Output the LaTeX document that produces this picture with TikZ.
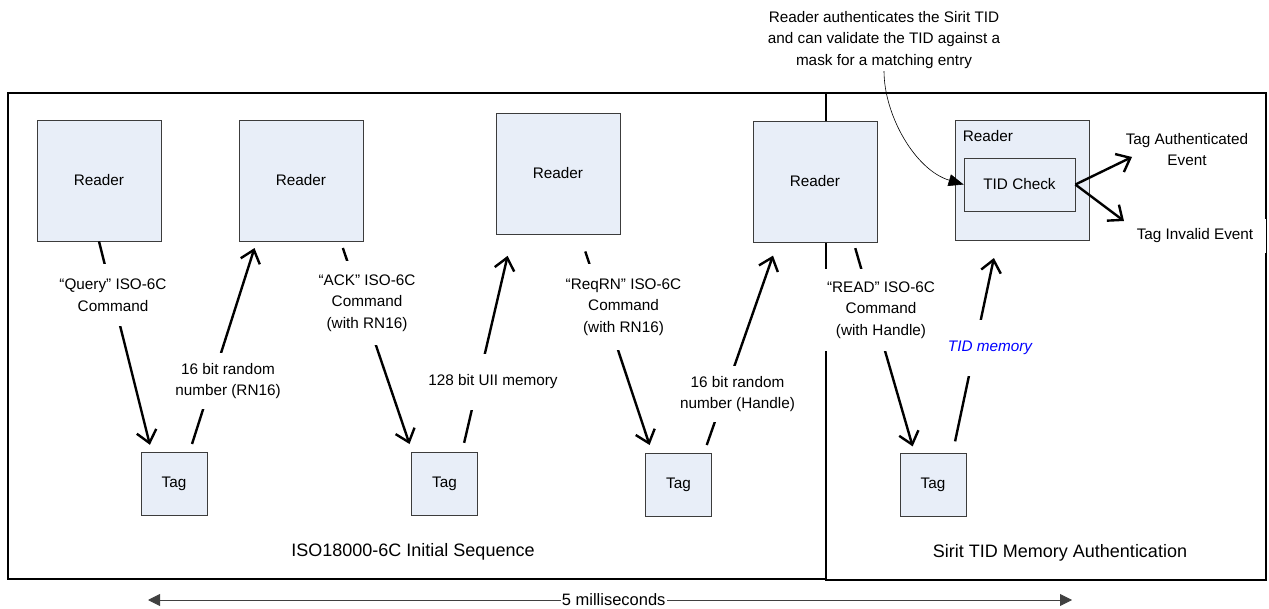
\documentclass[tikz,border=0pt]{standalone}
\usepackage{fontspec}
\setmainfont{Liberation Sans}
\usetikzlibrary{arrows.meta,calc}
\definecolor{boxfill}{RGB}{232,238,248}
\definecolor{boxline}{RGB}{60,60,60}
\definecolor{memblue}{RGB}{0,0,255}
\begin{document}
\begin{tikzpicture}[x=1pt,y=-1pt,
  font=\fontsize{15.3}{21.7}\selectfont,
  box/.style={draw=boxline, line width=0.8pt, fill=boxfill, inner sep=0pt},
  reader/.style={box, minimum width=124pt, minimum height=121pt},
  tag/.style={box, minimum width=66pt, minimum height=63pt},
  lbl/.style={fill=white, align=center, inner xsep=3pt},
  msg/.style={line width=2.4pt, -{Straight Barb[length=12pt,width=20pt]}},
  frame/.style={draw=black, line width=1.6pt},
  title/.style={font=\fontsize{18}{22}\selectfont}]
\useasboundingbox (0,0) rectangle (1269,609);

% frames
\draw[frame] (8,93) rectangle (826,579);
\draw[frame] (826,93) rectangle (1266,580);

% readers
\node[reader] (R1) at (99,180.5) {Reader};
\node[reader] (R2) at (301,180.5) {Reader};
\node[reader] (R3) at (558,173.5) {Reader};
\node[reader] (R4) at (815,181.5) {Reader};
\node[box, minimum width=134pt, minimum height=120pt] (R5) at (1022,180) {};
\node (R5t) at (988,136) {Reader};
\node[box, minimum width=111pt, minimum height=53pt] (TID) at (1019.5,184.5) {TID Check};

% tags
\node[tag] (T1) at (174,483.5) {Tag};
\node[tag] (T2) at (444.5,483.5) {Tag};
\node[tag] (T3) at (678.5,484.5) {Tag};
\node[tag] (T4) at (933,485) {Tag};

% message arrows
\draw[msg, shorten >=7pt] (R1.south) -- ([xshift=11pt]T1.north west);
\draw[msg, shorten <=8pt, shorten >=7pt] ([xshift=49pt]T1.north west) -- ([xshift=18pt]R2.south west);
\draw[msg, shorten <=7pt, shorten >=8pt] ([xshift=102pt]R2.south west) -- ([xshift=1pt]T2.north west);
\draw[msg, shorten <=9pt, shorten >=22pt] ([xshift=51pt]T2.north west) -- ([xshift=17pt]R3.south west);
\draw[msg, shorten <=18pt, shorten >=8pt] ([xshift=84pt]R3.south west) -- ([xshift=7pt]T3.north west);
\draw[msg, shorten <=8pt, shorten >=14pt] ([xshift=59pt]T3.north west) -- ([xshift=25pt]R4.south west);
\draw[msg, shorten <=6pt, shorten >=7pt] ([xshift=101pt]R4.south west) -- ([xshift=15pt]T4.north west);
\draw[msg, shorten <=12pt, shorten >=18pt] ([xshift=53pt]T4.north west) -- ([xshift=43pt]R5.south west);

% message labels
\node[lbl, inner ysep=15pt] (L1) at (113,295) {“Query” ISO-6C\\Command};
\node[lbl, inner ysep=10pt] (L2) at (228,381) {16 bit random\\number (RN16)};
\node[lbl, inner ysep=13pt] (L3) at (367,303) {“ACK” ISO-6C\\Command\\(with RN16)};
\node[lbl, inner ysep=21pt] (L4) at (493,382) {128 bit UII memory};
\node[lbl, inner ysep=14pt] (L5) at (623.5,307) {“ReqRN” ISO-6C\\Command\\(with RN16)};
\node[lbl, inner ysep=10pt] (L6) at (737.5,394) {16 bit random\\number (Handle)};
\node[lbl, inner ysep=12pt, inner xsep=2pt] (L7) at (881,310) {“READ” ISO-6C\\Command\\(with Handle)};
\node[lbl, inner ysep=21pt, text=memblue, font=\fontsize{15.3}{21.7}\selectfont\itshape] (L8) at (990,348) {TID memory};

% results
\node[align=center] (TA) at (1187,149.5) {Tag Authenticated\\Event};
\node[fill=white, inner xsep=13pt, inner ysep=10pt] (TI) at (1195,236) {Tag Invalid Event};
\coordinate (TAend) at (1132,157);
\coordinate (TIend) at (1124,221);
\draw[msg] (TID.east) -- (TAend);
\draw[msg] (TID.east) -- (TIend);

% annotation
\node[align=center, inner sep=2pt] (ann) at (884,40) {Reader authenticates the Sirit TID\\and can validate the TID against a\\mask for a matching entry};
\draw[line width=0.6pt, -{Triangle[length=15pt,width=12pt]}] (ann.south) .. controls (884,115) and (915,170) .. (TID.west);

% section titles
\node[title] (S1) at (413,552) {ISO18000-6C Initial Sequence};
\node[title] (S2) at (1060,553) {Sirit TID Memory Authentication};

% time span
\coordinate (tl) at (148,600);
\coordinate (tr) at (1072,600);
\draw[draw=black!75, line width=0.9pt, {Triangle[length=12pt,width=12pt]}-{Triangle[length=12pt,width=12pt]}]
  (tl) -- node[pos=0.504, fill=white, inner xsep=1pt, inner ysep=0pt, font=\fontsize{16.5}{18}\selectfont] (ms) {5 milliseconds} (tr);
\end{tikzpicture}
\end{document}
